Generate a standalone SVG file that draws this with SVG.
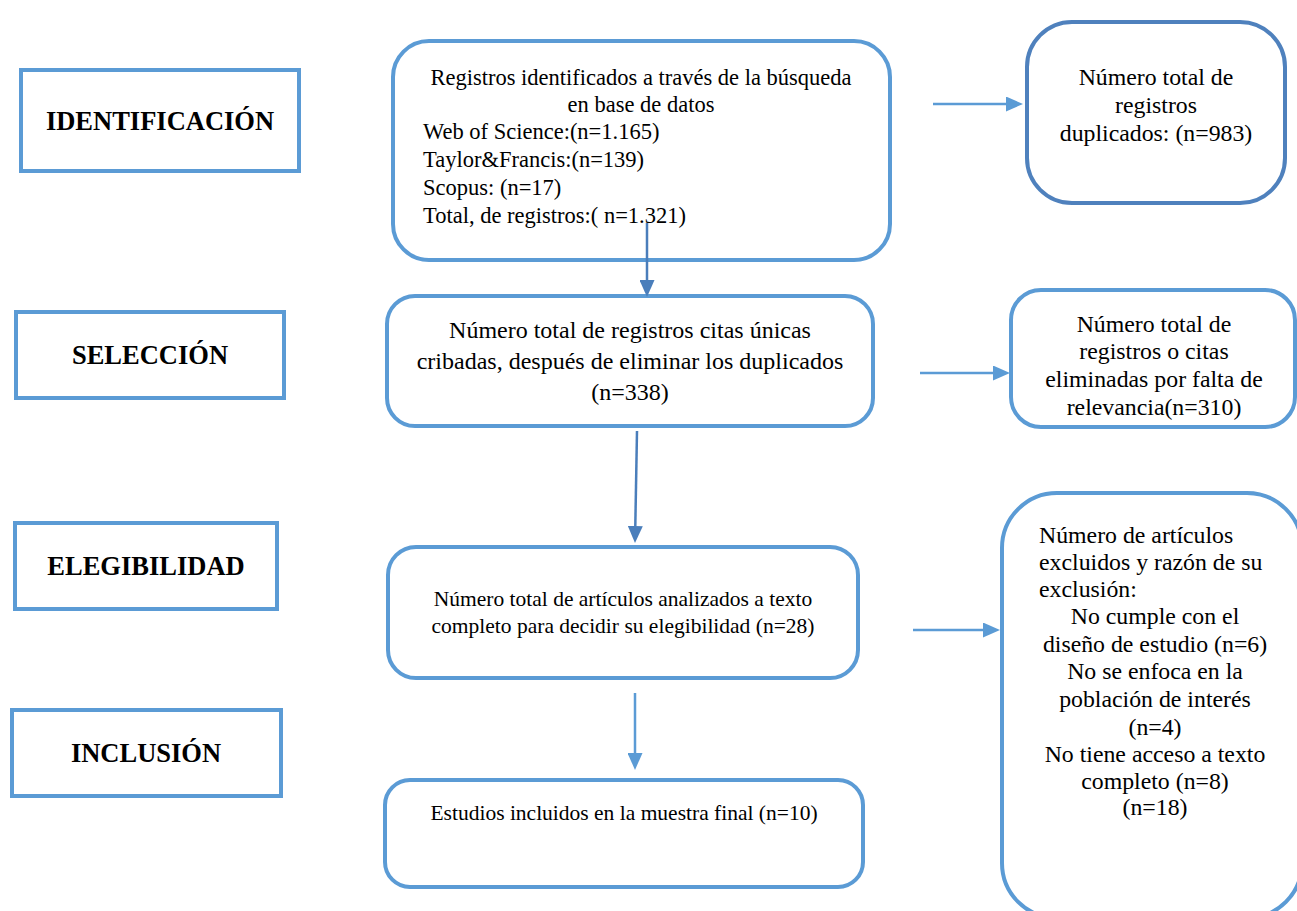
<svg xmlns="http://www.w3.org/2000/svg" width="1297" height="911" viewBox="0 0 1297 911">
<style>
.lbl{fill:#fff;stroke:#5b9bd5;stroke-width:4}
.box{fill:#fff;stroke:#5b9bd5;stroke-width:4}
.boxd{fill:#fff;stroke:#4f81bd;stroke-width:4}
.h{font-family:"Liberation Serif","Times New Roman",serif;font-weight:bold;font-size:26.5px;fill:#000;text-anchor:middle}
.t{font-family:"Liberation Serif","Times New Roman",serif;font-size:23.8px;fill:#000}
.b1{font-size:22.5px}
.b2{font-size:24px}
.b3{font-size:21.5px}
.c{text-anchor:middle}
.con{fill:none;stroke-width:2.5}
.lt{stroke:#5b9bd5}
.dk{stroke:#4a7ebb}
</style>
<defs>
<marker id="ahl" markerUnits="userSpaceOnUse" markerWidth="17" markerHeight="15" refX="0" refY="7.5" orient="auto"><path d="M0,0 L17,7.5 L0,15 z" fill="#5b9bd5"/></marker>
<marker id="ahd" markerUnits="userSpaceOnUse" markerWidth="17" markerHeight="15" refX="0" refY="7.5" orient="auto"><path d="M0,0 L17,7.5 L0,15 z" fill="#4a7ebb"/></marker>
</defs>
<rect width="1297" height="911" fill="#fff"/>
<g id="identificacion"><rect class="lbl" x="21" y="70" width="278" height="101"/><text class="h" x="160" y="130">IDENTIFICACIÓN</text></g>
<g id="seleccion"><rect class="lbl" x="16" y="312" width="268" height="86"/><text class="h" x="150" y="364">SELECCIÓN</text></g>
<g id="elegibilidad"><rect class="lbl" x="15" y="523" width="262" height="86"/><text class="h" x="146" y="575">ELEGIBILIDAD</text></g>
<g id="inclusion"><rect class="lbl" x="12" y="710" width="269" height="86"/><text class="h" x="146" y="762">INCLUSIÓN</text></g>
<g id="registros"><rect class="box" x="393" y="41" width="497" height="219" rx="36"/>
<text class="t b1 c" x="641" y="85">Registros identificados a través de la búsqueda</text>
<text class="t b1 c" x="641" y="112">en base de datos</text>
<text class="t b1" x="423" y="139">Web of Science:(n=1.165)</text>
<text class="t b1" x="423" y="167">Taylor&amp;Francis:(n=139)</text>
<text class="t b1" x="423" y="195">Scopus: (n=17)</text>
<text class="t b1" x="423" y="223">Total, de registros:( n=1.321)</text></g>
<g id="duplicados"><rect class="boxd" x="1027" y="22" width="258" height="181" rx="45"/>
<text class="t c" x="1156" y="85">Número total de</text>
<text class="t c" x="1156" y="113">registros</text>
<text class="t c" x="1156" y="141">duplicados: (n=983)</text></g>
<g id="cribadas"><rect class="box" x="387" y="296" width="486" height="130" rx="28"/>
<text class="t b2 c" x="630" y="338">Número total de registros citas únicas</text>
<text class="t b2 c" x="630" y="369">cribadas, después de eliminar los duplicados</text>
<text class="t b2 c" x="630" y="400">(n=338)</text></g>
<g id="eliminadas"><rect class="box" x="1011" y="290" width="284" height="137" rx="30"/>
<text class="t c" x="1154" y="332">Número total de</text>
<text class="t c" x="1154" y="359">registros o citas</text>
<text class="t c" x="1154" y="387">eliminadas por falta de</text>
<text class="t c" x="1154" y="415">relevancia(n=310)</text></g>
<g id="texto-completo"><rect class="box" x="388" y="547" width="470" height="131" rx="28"/>
<text class="t b3 c" x="623" y="606">Número total de artículos analizados a texto</text>
<text class="t b3 c" x="623" y="633">completo para decidir su elegibilidad (n=28)</text></g>
<g id="excluidos"><rect class="box" x="1002" y="493" width="300" height="425" rx="55"/>
<text class="t" x="1039" y="543">Número de artículos</text>
<text class="t" x="1039" y="570">excluidos y razón de su</text>
<text class="t" x="1039" y="597">exclusión:</text>
<text class="t c" x="1155" y="624">No cumple con el</text>
<text class="t c" x="1155" y="652">diseño de estudio (n=6)</text>
<text class="t c" x="1155" y="679">No se enfoca en la</text>
<text class="t c" x="1155" y="707">población de interés</text>
<text class="t c" x="1155" y="735">(n=4)</text>
<text class="t c" x="1155" y="762">No tiene acceso a texto</text>
<text class="t c" x="1155" y="789">completo (n=8)</text>
<text class="t c" x="1155" y="815">(n=18)</text></g>
<g id="incluidos"><rect class="box" x="385" y="780" width="478" height="107" rx="25"/>
<text class="t b3 c" x="624" y="820">Estudios incluidos en la muestra final (n=10)</text></g>
<g id="connectors">
<path class="con dk" d="M647,223 L647,280" marker-end="url(#ahd)"/>
<path class="con lt" d="M933,104 L1006,104" marker-end="url(#ahl)"/>
<path class="con dk" d="M637,431 L635.3,526" marker-end="url(#ahd)"/>
<path class="con lt" d="M920,373 L993,373" marker-end="url(#ahl)"/>
<path class="con lt" d="M913,630 L983,630" marker-end="url(#ahl)"/>
<path class="con lt" d="M635,693 L635,753" marker-end="url(#ahl)"/>
</g>
</svg>
